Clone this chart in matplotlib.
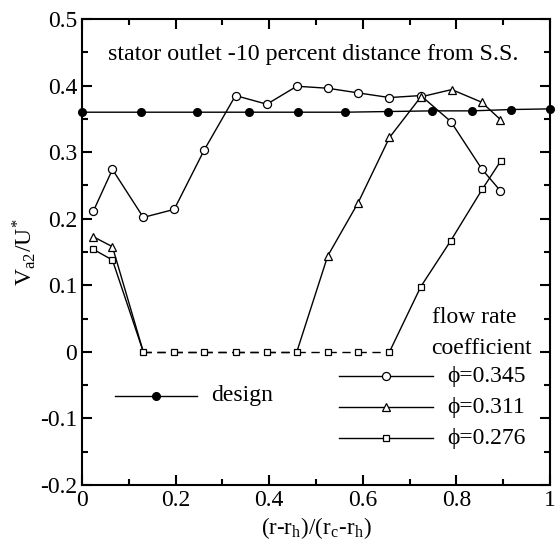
import numpy as np
import matplotlib
matplotlib.use('Agg')
import matplotlib.pyplot as plt
from matplotlib.ticker import MultipleLocator

plt.rcParams['font.family'] = ['Liberation Serif', 'DejaVu Serif']
plt.rcParams['mathtext.fontset'] = 'stix'

# design line
x_design = [0.0, 0.125, 0.245, 0.357, 0.462, 0.562, 0.654, 0.748, 0.833, 0.917, 1.0]
y_design = [0.360, 0.360, 0.360, 0.360, 0.360, 0.360, 0.361, 0.362, 0.362, 0.364, 0.365]

# phi = 0.345
x_345 = [0.024, 0.065, 0.131, 0.197, 0.261, 0.328, 0.395, 0.459, 0.525, 0.590, 0.657, 0.724, 0.788, 0.855, 0.894]
y_345 = [0.211, 0.274, 0.202, 0.214, 0.303, 0.385, 0.372, 0.399, 0.396, 0.389, 0.382, 0.385, 0.346, 0.274, 0.242]

# phi = 0.311
x_311 = [0.024, 0.065, 0.131, 0.197, 0.261, 0.328, 0.395, 0.459, 0.525, 0.590, 0.657, 0.724, 0.790, 0.854, 0.894]
y_311 = [0.173, 0.158, 0.0, 0.0, 0.0, 0.0, 0.0, 0.0, 0.144, 0.224, 0.322, 0.383, 0.394, 0.375, 0.349]

# phi = 0.276
x_276 = [0.024, 0.065, 0.131, 0.197, 0.261, 0.328, 0.395, 0.459, 0.525, 0.590, 0.657, 0.724, 0.788, 0.855, 0.895]
y_276 = [0.154, 0.138, 0.0, 0.0, 0.0, 0.0, 0.0, 0.0, 0.0, 0.0, 0.0, 0.098, 0.167, 0.244, 0.287]

labels = ['\u03d5=0.345', '\u03d5=0.311', '\u03d5=0.276']


def draw_series(ax, x, y, marker, ms, zero_markers=True):
    # solid segments, dashed where the curve lies on zero
    for i in range(len(x) - 1):
        if y[i] == 0 and y[i + 1] == 0:
            ax.plot(x[i:i + 2], y[i:i + 2], color='black', lw=1, ls=(0, (6, 4)), zorder=2)
        else:
            ax.plot(x[i:i + 2], y[i:i + 2], color='black', lw=1, zorder=2)
    xs = np.array(x)
    ys = np.array(y)
    if not zero_markers:
        keep = ys != 0
        xs, ys = xs[keep], ys[keep]
    ax.plot(xs, ys, ls='none', marker=marker, ms=ms, mfc='white', mec='black',
            mew=0.9, zorder=3)


fig = plt.figure(figsize=(5.58, 5.49), dpi=100)
ax = fig.add_axes([82 / 558, 1 - 485 / 549, 468 / 558, 466 / 549])

ax.plot(x_design, y_design, color='black', lw=1, marker='o', ms=5.5, mfc='black',
        clip_on=False, zorder=4)
draw_series(ax, x_345, y_345, 'o', 5.8)
draw_series(ax, x_311, y_311, '^', 5.2, zero_markers=False)
draw_series(ax, x_276, y_276, 's', 4)

ax.set_xlim(0, 1)
ax.set_ylim(-0.2, 0.5)
ax.xaxis.set_minor_locator(MultipleLocator(0.1))
ax.yaxis.set_minor_locator(MultipleLocator(0.05))
ax.set_xticks([0, 0.2, 0.4, 0.6, 0.8, 1.0])
ax.set_xticklabels(['0', '0.2', '0.4', '0.6', '0.8', '1'])
ax.set_yticks([-0.2, -0.1, 0, 0.1, 0.2, 0.3, 0.4, 0.5])
ax.set_yticklabels(['-0.2', '-0.1', '0', '0.1', '0.2', '0.3', '0.4', '0.5'])
ax.tick_params(which='both', direction='in', right=True, top=True, labelsize=17, width=1.5)
ax.tick_params(which='major', length=7)
ax.tick_params(which='minor', length=4)
for s in ax.spines.values():
    s.set_linewidth(1.5)

ax.set_xlabel('(r-r$_\\mathregular{h}$)/(r$_\\mathregular{c}$-r$_\\mathregular{h}$)', fontsize=16.5, labelpad=3)
ax.set_ylabel('V$_\\mathregular{a2}$/U$^\\mathregular{*}$', fontsize=17, labelpad=1)

ax.text(0.494, 0.447, 'stator outlet -10 percent distance from S.S.', fontsize=17.3,
        ha='center', va='center')

# legend drawn by hand
ax.plot([0.07, 0.245], [-0.066, -0.066], color='black', lw=1)
ax.plot([0.158], [-0.066], marker='o', ms=5.5, color='black')
ax.text(0.275, -0.066, 'design', fontsize=17, va='center')

ax.text(0.747, 0.052, 'flow rate', fontsize=17, ha='left', va='center')
ax.text(0.747, 0.005, 'coefficient', fontsize=17, ha='left', va='center')
leg_y = [-0.037, -0.083, -0.130]
for yy, mk, ms, lab in zip(leg_y, ['o', '^', 's'], [5.8, 5.2, 4], labels):
    ax.plot([0.549, 0.75], [yy, yy], color='black', lw=1)
    ax.plot([0.650], [yy], marker=mk, ms=ms, mfc='white', mec='black', mew=0.9)
    ax.text(0.78, yy, lab, fontsize=17, va='center')

fig.savefig('out.png', dpi=100)
